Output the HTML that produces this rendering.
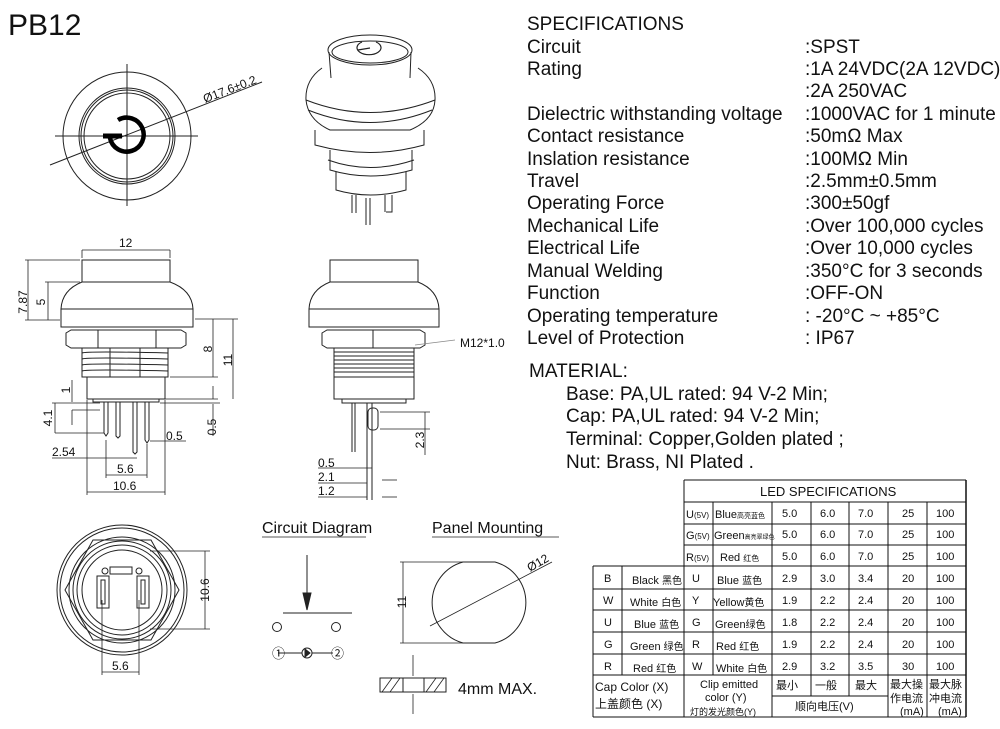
<!DOCTYPE html>
<html><head><meta charset="utf-8"><style>
html,body{margin:0;padding:0;background:#fff}
svg{display:block}
text{font-family:"Liberation Sans","Noto Sans CJK SC",sans-serif;fill:#111}
.s{font-size:19px}
.d{font-size:12px}
.t{font-size:11px}
.c{font-size:10px}
.n{font-family:"Liberation Serif","Noto Serif CJK SC",serif;font-size:11px}
</style></head><body>
<svg width="1000" height="729" viewBox="0 0 1000 729" xmlns="http://www.w3.org/2000/svg">
<g fill="none" stroke="#222" stroke-width="1">
<!-- top view -->
<circle cx="127" cy="136" r="64"/>
<circle cx="127" cy="136" r="48"/><circle cx="127" cy="136" r="46"/><circle cx="127" cy="136" r="43"/>
<line x1="127" y1="64" x2="127" y2="206"/><line x1="55" y1="136" x2="198" y2="136"/>
<line x1="50" y1="165" x2="262" y2="82"/>
<path d="M118 120 A17 17 0 1 1 110 138" stroke="#000" stroke-width="4.5"/>
<line x1="103" y1="136" x2="122" y2="136" stroke="#000" stroke-width="5"/>
<!-- 3d view -->
<ellipse cx="370" cy="50" rx="42" ry="15"/><ellipse cx="370" cy="52" rx="38" ry="11"/>
<path d="M329 52 L331 78 M411 52 L410 78"/>
<path d="M322 68 Q305 80 306 100 Q308 120 330 130 L410 130 Q434 120 435 100 Q436 80 418 68"/>
<path d="M306 100 Q370 125 435 100 M308 110 Q370 135 432 110"/>
<path d="M315 130 L315 145 Q370 160 424 145 L424 130"/>
<path d="M330 150 L330 170 Q370 182 412 170 L412 150 M328 160 Q370 175 414 160"/>
<path d="M336 172 L336 190 Q370 200 406 190 L406 172"/>
<path d="M352 195 L352 213 M356 195 L356 213 M366 198 L366 225 M370 198 L370 225 M385 195 L385 212 M392 195 L392 212 L386 212"/>
<path d="M362 42 a12 7 0 1 0 14 0 M358 50 l12 -2" stroke-width="1.2"/>
<!-- side view 1 -->
<path d="M82 260 L82 282 L170 282 L170 260 Z"/>
<path d="M82 282 Q62 290 61 309 L193 309 Q192 290 170 282"/>
<rect x="61" y="309" width="132" height="18"/>
<path d="M66 333 L71 330 L181 330 L186 333 L186 345 L181 348 L71 348 L66 345 Z M98 330 L98 348 M156 330 L156 348"/>
<path d="M82 348 L82 377 L168 377 L168 348"/>
<path d="M82 353 Q87 351 168 353 M82 359 Q87 357 168 359 M82 365 Q87 363 168 365 M82 371 Q87 369 168 371 M110 348 L110 377 M140 348 L140 377"/>
<rect x="87" y="377" width="78" height="22"/>
<rect x="93" y="399" width="66" height="3"/>
<path d="M104 402 L104 433 L106 436 L108 433 L108 402 M116 402 L116 436 L118 438 L120 436 L120 402 M133 402 L133 452 L135 454 L137 452 L137 402 M145 402 L145 440 L147 443 L149 440 L149 402"/>
<!-- dims side 1 -->
<g stroke-width="0.8">
<line x1="82" y1="250" x2="82" y2="258"/><line x1="170" y1="250" x2="170" y2="258"/><line x1="82" y1="250" x2="170" y2="250"/>
<line x1="25" y1="260" x2="80" y2="260"/><line x1="25" y1="320" x2="60" y2="320"/><line x1="28" y1="260" x2="28" y2="320"/>
<line x1="45" y1="282" x2="80" y2="282"/><line x1="48" y1="282" x2="48" y2="320"/>
<line x1="195" y1="319" x2="238" y2="319"/><line x1="170" y1="377" x2="218" y2="377"/><line x1="165" y1="399" x2="218" y2="399"/>
<line x1="213" y1="319" x2="213" y2="377"/><line x1="233" y1="319" x2="233" y2="399"/><line x1="213" y1="386" x2="213" y2="399"/>
<line x1="213" y1="404" x2="213" y2="436"/><line x1="160" y1="403" x2="220" y2="403"/>
<line x1="72" y1="380" x2="72" y2="402"/><line x1="52" y1="403" x2="100" y2="403"/><line x1="55" y1="403" x2="55" y2="433"/><line x1="55" y1="433" x2="104" y2="433"/>
<line x1="72" y1="410" x2="72" y2="425"/><line x1="72" y1="410" x2="100" y2="410"/>
<line x1="150" y1="441" x2="186" y2="441"/>
<line x1="52" y1="458" x2="137" y2="458"/>
<line x1="106" y1="440" x2="106" y2="478"/><line x1="147" y1="444" x2="147" y2="478"/><line x1="106" y1="475" x2="147" y2="475"/>
<line x1="87" y1="400" x2="87" y2="495"/><line x1="165" y1="400" x2="165" y2="495"/><line x1="87" y1="492" x2="165" y2="492"/>
</g>
<!-- side view 2 -->
<path d="M330 260 L330 282 L418 282 L418 260 Z"/>
<path d="M330 282 Q310 290 309 309 L439 309 Q438 290 418 282"/>
<rect x="309" y="309" width="130" height="18"/>
<path d="M322 333 L327 330 L420 330 L425 333 L425 345 L420 348 L327 348 L322 345 Z M373 330 L373 348"/>
<path d="M334 348 L334 377 L414 377 L414 348 M334 352 L414 352 M334 356 L414 356 M334 360 L414 360 M334 364 L414 364 M334 368 L414 368 M334 372 L414 372"/>
<rect x="334" y="377" width="80" height="22"/>
<path d="M342 399 L342 403 L406 403 L406 399"/>
<path d="M352 403 L352 452 M355 403 L355 452 M367 403 L367 500 M372 403 L372 500"/>
<rect x="368" y="408" width="10" height="22" rx="4"/>
<g stroke-width="0.8">
<line x1="415" y1="345" x2="455" y2="340" stroke="#888"/>
<line x1="380" y1="412" x2="430" y2="412"/><line x1="380" y1="429" x2="430" y2="429"/><line x1="425" y1="412" x2="425" y2="455"/>
<line x1="318" y1="468" x2="372" y2="468"/><line x1="318" y1="483" x2="367" y2="483"/><line x1="318" y1="497" x2="367" y2="497"/>
<line x1="382" y1="480" x2="397" y2="480"/><line x1="382" y1="497" x2="397" y2="497"/>
</g>
<!-- bottom view -->
<circle cx="122" cy="590" r="65"/><circle cx="122" cy="590" r="62"/>
<path d="M65 590 L93 540 L151 540 L179 590 L151 640 L93 640 Z"/>
<circle cx="122" cy="590" r="53"/><circle cx="122" cy="590" r="49"/><circle cx="122" cy="590" r="45"/><circle cx="122" cy="590" r="40"/>
<rect x="97" y="576" width="12" height="32"/><rect x="101" y="580" width="4" height="24"/>
<rect x="137" y="576" width="12" height="32"/><rect x="141" y="580" width="4" height="24"/>
<rect x="110" y="567" width="22" height="7"/><circle cx="105" cy="571" r="3"/><circle cx="139" cy="571" r="3"/>
<g stroke-width="0.8">
<line x1="150" y1="551" x2="210" y2="551"/><line x1="150" y1="629" x2="210" y2="629"/><line x1="205" y1="551" x2="205" y2="629"/>
<line x1="102" y1="600" x2="102" y2="675"/><line x1="139" y1="600" x2="139" y2="675"/><line x1="102" y1="672" x2="139" y2="672"/>
</g>
<!-- circuit -->
<line x1="262" y1="537" x2="366" y2="537" stroke-width="0.8"/>
<line x1="307" y1="555" x2="307" y2="605"/><path d="M303 593 L307 610 L311 593 Z" fill="#222"/>
<line x1="283" y1="613" x2="352" y2="613"/>
<circle cx="277" cy="627" r="4.5"/><circle cx="336" cy="627" r="4.5"/>
<line x1="278" y1="653" x2="302" y2="653"/><line x1="312" y1="653" x2="333" y2="653"/>
<circle cx="307" cy="653" r="5"/><path d="M305 649 L310 653 L305 657 Z" fill="#222"/>
<!-- panel -->
<line x1="432" y1="537" x2="559" y2="537" stroke-width="0.8"/>
<path d="M463 562 A42 42 0 0 0 463 643 L495 643 A42 42 0 0 0 495 562 Z"/>
<line x1="400" y1="562" x2="463" y2="562" stroke-width="0.8"/><line x1="400" y1="643" x2="463" y2="643" stroke-width="0.8"/>
<line x1="403" y1="562" x2="403" y2="643" stroke-width="0.8"/>
<line x1="430" y1="626" x2="552" y2="562" stroke-width="0.8"/>
<rect x="380" y="678" width="66" height="14"/>
<line x1="403" y1="678" x2="403" y2="692"/><line x1="424" y1="678" x2="424" y2="692"/>
<path d="M382 692 l10 -14 M390 692 l10 -14 M426 692 l10 -14 M434 692 l10 -14" stroke-width="0.8"/>
<line x1="413" y1="655" x2="413" y2="676" stroke-width="0.8"/><line x1="413" y1="694" x2="413" y2="714" stroke-width="0.8"/>
<!-- LED table -->
<g stroke="#111">
<line x1="684" y1="480" x2="966" y2="480"/>
<line x1="684" y1="502" x2="966" y2="502"/>
<line x1="684" y1="524" x2="966" y2="524"/>
<line x1="684" y1="545" x2="966" y2="545"/>
<line x1="593" y1="566" x2="966" y2="566"/>
<line x1="593" y1="589" x2="966" y2="589"/>
<line x1="593" y1="610" x2="966" y2="610"/>
<line x1="593" y1="632" x2="966" y2="632"/>
<line x1="593" y1="654" x2="966" y2="654"/>
<line x1="593" y1="675" x2="966" y2="675"/>
<line x1="593" y1="717" x2="966" y2="717"/>
<line x1="772" y1="696" x2="888" y2="696"/>
<line x1="593" y1="566" x2="593" y2="717"/>
<line x1="622" y1="566" x2="622" y2="675"/>
<line x1="684" y1="480" x2="684" y2="717"/>
<line x1="713" y1="502" x2="713" y2="675"/>
<line x1="772" y1="502" x2="772" y2="717"/>
<line x1="811" y1="502" x2="811" y2="696"/>
<line x1="849" y1="502" x2="849" y2="696"/>
<line x1="888" y1="502" x2="888" y2="717"/>
<line x1="927" y1="502" x2="927" y2="717"/>
<line x1="966" y1="480" x2="966" y2="717" stroke-width="1.5"/>
</g>
</g>
<text x="8" y="35" style="font-size:30px">PB12</text>
<text x="205" y="103" class="d" transform="rotate(-21 205 103)">Ø17.6±0.2</text>
<g class="d">
<text x="119" y="247">12</text>
<text x="27" y="302" transform="rotate(-90 27 302)" text-anchor="middle">7.87</text>
<text x="45" y="302" transform="rotate(-90 45 302)" text-anchor="middle">5</text>
<text x="212" y="349" transform="rotate(-90 212 349)" text-anchor="middle">8</text>
<text x="232" y="360" transform="rotate(-90 232 360)" text-anchor="middle">11</text>
<text x="70" y="390" transform="rotate(-90 70 390)" text-anchor="middle">1</text>
<text x="52" y="418" transform="rotate(-90 52 418)" text-anchor="middle">4.1</text>
<text x="216" y="427" transform="rotate(-90 216 427)" text-anchor="middle">0.5</text>
<text x="166" y="440">0.5</text>
<text x="52" y="456">2.54</text>
<text x="117" y="473">5.6</text>
<text x="113" y="490">10.6</text>
<text x="460" y="347">M12*1.0</text>
<text x="424" y="440" transform="rotate(-90 424 440)" text-anchor="middle">2.3</text>
<text x="318" y="467">0.5</text>
<text x="318" y="481">2.1</text>
<text x="318" y="495">1.2</text>
<text x="209" y="590" transform="rotate(-90 209 590)" text-anchor="middle">10.6</text>
<text x="112" y="670">5.6</text>
<text x="406" y="602" transform="rotate(-90 406 602)" text-anchor="middle">11</text>
<text x="530" y="572" transform="rotate(-30 530 572)">Ø12</text>
</g>
<text x="262" y="533" style="font-size:16px">Circuit Diagram</text>
<text x="432" y="533" style="font-size:16px">Panel Mounting</text>
<text x="272" y="658" style="font-size:13px">①</text><text x="331" y="658" style="font-size:13px">②</text>
<text x="458" y="694" style="font-size:16px">4mm MAX.</text>
<g class="s">
<text x="527" y="30">SPECIFICATIONS</text>
<text x="527" y="53">Circuit</text><text x="805" y="53">:SPST</text>
<text x="527" y="75">Rating</text><text x="805" y="75">:1A 24VDC(2A 12VDC)</text>
<text x="805" y="97">:2A 250VAC</text>
<text x="527" y="120">Dielectric withstanding voltage</text><text x="805" y="120">:1000VAC for 1 minute</text>
<text x="527" y="142">Contact resistance</text><text x="805" y="142">:50mΩ   Max</text>
<text x="527" y="165">Inslation resistance</text><text x="805" y="165">:100MΩ  Min</text>
<text x="527" y="187">Travel</text><text x="805" y="187">:2.5mm±0.5mm</text>
<text x="527" y="209">Operating Force</text><text x="805" y="209">:300±50gf</text>
<text x="527" y="232">Mechanical Life</text><text x="805" y="232">:Over 100,000 cycles</text>
<text x="527" y="254">Electrical Life</text><text x="805" y="254">:Over 10,000 cycles</text>
<text x="527" y="277">Manual Welding</text><text x="805" y="277">:350°C for 3 seconds</text>
<text x="527" y="299">Function</text><text x="805" y="299">:OFF-ON</text>
<text x="527" y="322">Operating temperature</text><text x="805" y="322">: -20°C ~ +85°C</text>
<text x="527" y="344">Level of Protection</text><text x="805" y="344">: IP67</text>
<text x="529" y="377">MATERIAL:</text>
<text x="566" y="400">Base: PA,UL rated: 94 V-2 Min;</text>
<text x="566" y="422">Cap: PA,UL rated: 94 V-2 Min;</text>
<text x="566" y="445">Terminal: Copper,Golden plated ;</text>
<text x="566" y="468">Nut: Brass, NI Plated .</text>
</g>
<text x="760" y="496" style="font-size:13px">LED SPECIFICATIONS</text>
<g class="t">
<text x="686" y="518">U<tspan style="font-size:8px">(5V)</tspan></text><text x="715" y="518">Blue<tspan style="font-size:7px">高亮蓝色</tspan></text>
<text x="686" y="539">G<tspan style="font-size:8px">(5V)</tspan></text><text x="714" y="539">Green<tspan style="font-size:6px">高亮翠绿色</tspan></text>
<text x="686" y="561">R<tspan style="font-size:8px">(5V)</tspan></text><text x="720" y="561">Red <tspan style="font-size:8px">红色</tspan></text>
<text x="604" y="582">B</text><text x="632" y="584">Black <tspan style="font-size:10px">黑色</tspan></text>
<text x="603" y="604">W</text><text x="630" y="606">White <tspan style="font-size:10px">白色</tspan></text>
<text x="604" y="626">U</text><text x="634" y="628">Blue <tspan style="font-size:10px">蓝色</tspan></text>
<text x="604" y="648">G</text><text x="630" y="650">Green <tspan style="font-size:10px">绿色</tspan></text>
<text x="604" y="670">R</text><text x="633" y="672">Red <tspan style="font-size:10px">红色</tspan></text>
<text x="692" y="582">U</text><text x="717" y="584">Blue  <tspan style="font-size:10px">蓝色</tspan></text>
<text x="692" y="604">Y</text><text x="713" y="606">Yellow<tspan style="font-size:10px">黄色</tspan></text>
<text x="692" y="626">G</text><text x="715" y="628">Green<tspan style="font-size:10px">绿色</tspan></text>
<text x="692" y="648">R</text><text x="716" y="650">Red   <tspan style="font-size:10px">红色</tspan></text>
<text x="692" y="670">W</text><text x="716" y="672">White <tspan style="font-size:10px">白色</tspan></text>
<text x="595" y="691" style="font-size:12px">Cap Color (X)</text>
<text x="595" y="708" style="font-size:12px">上盖颜色  (X)</text>
<text x="700" y="688">Clip emitted</text>
<text x="705" y="701">color (Y)</text>
<text x="690" y="715" style="font-size:9px">灯的发光颜色(Y)</text>
<text x="776" y="689">最小</text><text x="815" y="689">一般</text><text x="855" y="689">最大</text>
<text x="795" y="710">顺向电压(V)</text>
<text x="890" y="688">最大操</text><text x="890" y="702">作电流</text><text x="900" y="715">(mA)</text>
<text x="929" y="688">最大脉</text><text x="929" y="702">冲电流</text><text x="938" y="715">(mA)</text>
</g>
<g class="n">
<text x="782" y="517">5.0</text><text x="820" y="517">6.0</text><text x="858" y="517">7.0</text><text x="902" y="517">25</text><text x="936" y="517">100</text>
<text x="782" y="538">5.0</text><text x="820" y="538">6.0</text><text x="858" y="538">7.0</text><text x="902" y="538">25</text><text x="936" y="538">100</text>
<text x="782" y="560">5.0</text><text x="820" y="560">6.0</text><text x="858" y="560">7.0</text><text x="902" y="560">25</text><text x="936" y="560">100</text>
<text x="782" y="582">2.9</text><text x="820" y="582">3.0</text><text x="858" y="582">3.4</text><text x="902" y="582">20</text><text x="936" y="582">100</text>
<text x="782" y="604">1.9</text><text x="820" y="604">2.2</text><text x="858" y="604">2.4</text><text x="902" y="604">20</text><text x="936" y="604">100</text>
<text x="782" y="626">1.8</text><text x="820" y="626">2.2</text><text x="858" y="626">2.4</text><text x="902" y="626">20</text><text x="936" y="626">100</text>
<text x="782" y="648">1.9</text><text x="820" y="648">2.2</text><text x="858" y="648">2.4</text><text x="902" y="648">20</text><text x="936" y="648">100</text>
<text x="782" y="670">2.9</text><text x="820" y="670">3.2</text><text x="858" y="670">3.5</text><text x="902" y="670">30</text><text x="936" y="670">100</text>
</g>
</svg>
</body></html>
